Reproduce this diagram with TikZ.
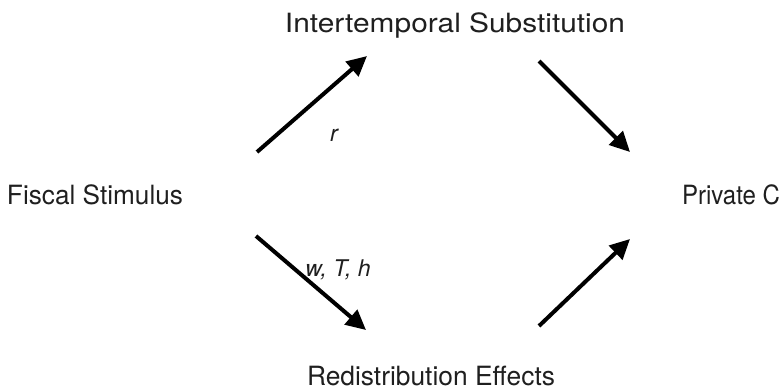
\documentclass[tikz,border=0pt]{standalone}
\usepackage{fontspec}
\setmainfont{TeX Gyre Heros}
\usetikzlibrary{arrows.meta}
\newcommand{\fitw}[2]{\resizebox{#1}{\height}{#2}}
\begin{document}
\begin{tikzpicture}[x=1pt,y=-1pt,
  lbl/.style={font=\fontsize{26.5}{31}\selectfont, text=black!88, inner sep=0pt, anchor=base},
  elbl/.style={font=\fontsize{23}{28}\selectfont\itshape, text=black!88, inner sep=0pt, anchor=base},
  conn/.style={line width=4pt, -{Triangle[length=20pt,width=19pt]}}]
\useasboundingbox (0,0) rectangle (783,391);
\node[lbl] (fs) at (95,204) {\fitw{176pt}{Fiscal Stimulus}};
\node[lbl] (pc) at (731,204) {\fitw{98pt}{Private C}};
\node[lbl] (is) at (455,32) {\fitw{340pt}{Intertemporal Substitution}};
\node[lbl] (re) at (431,385) {\fitw{248pt}{Redistribution Effects}};
\coordinate (a1s) at (257,152); \coordinate (a1e) at (367,56);
\coordinate (a2s) at (256,236); \coordinate (a2e) at (366,330);
\coordinate (a3s) at (539,61);  \coordinate (a3e) at (630,152);
\coordinate (a4s) at (539,326); \coordinate (a4e) at (630,239);
\draw[conn] (a1s) -- (a1e);
\draw[conn] (a2s) -- (a2e);
\draw[conn] (a3s) -- (a3e);
\draw[conn] (a4s) -- (a4e);
\node[elbl] (r) at (334,141) {r};
\node[elbl] (wth) at (338,276) {w, T, h};
\end{tikzpicture}
\end{document}
